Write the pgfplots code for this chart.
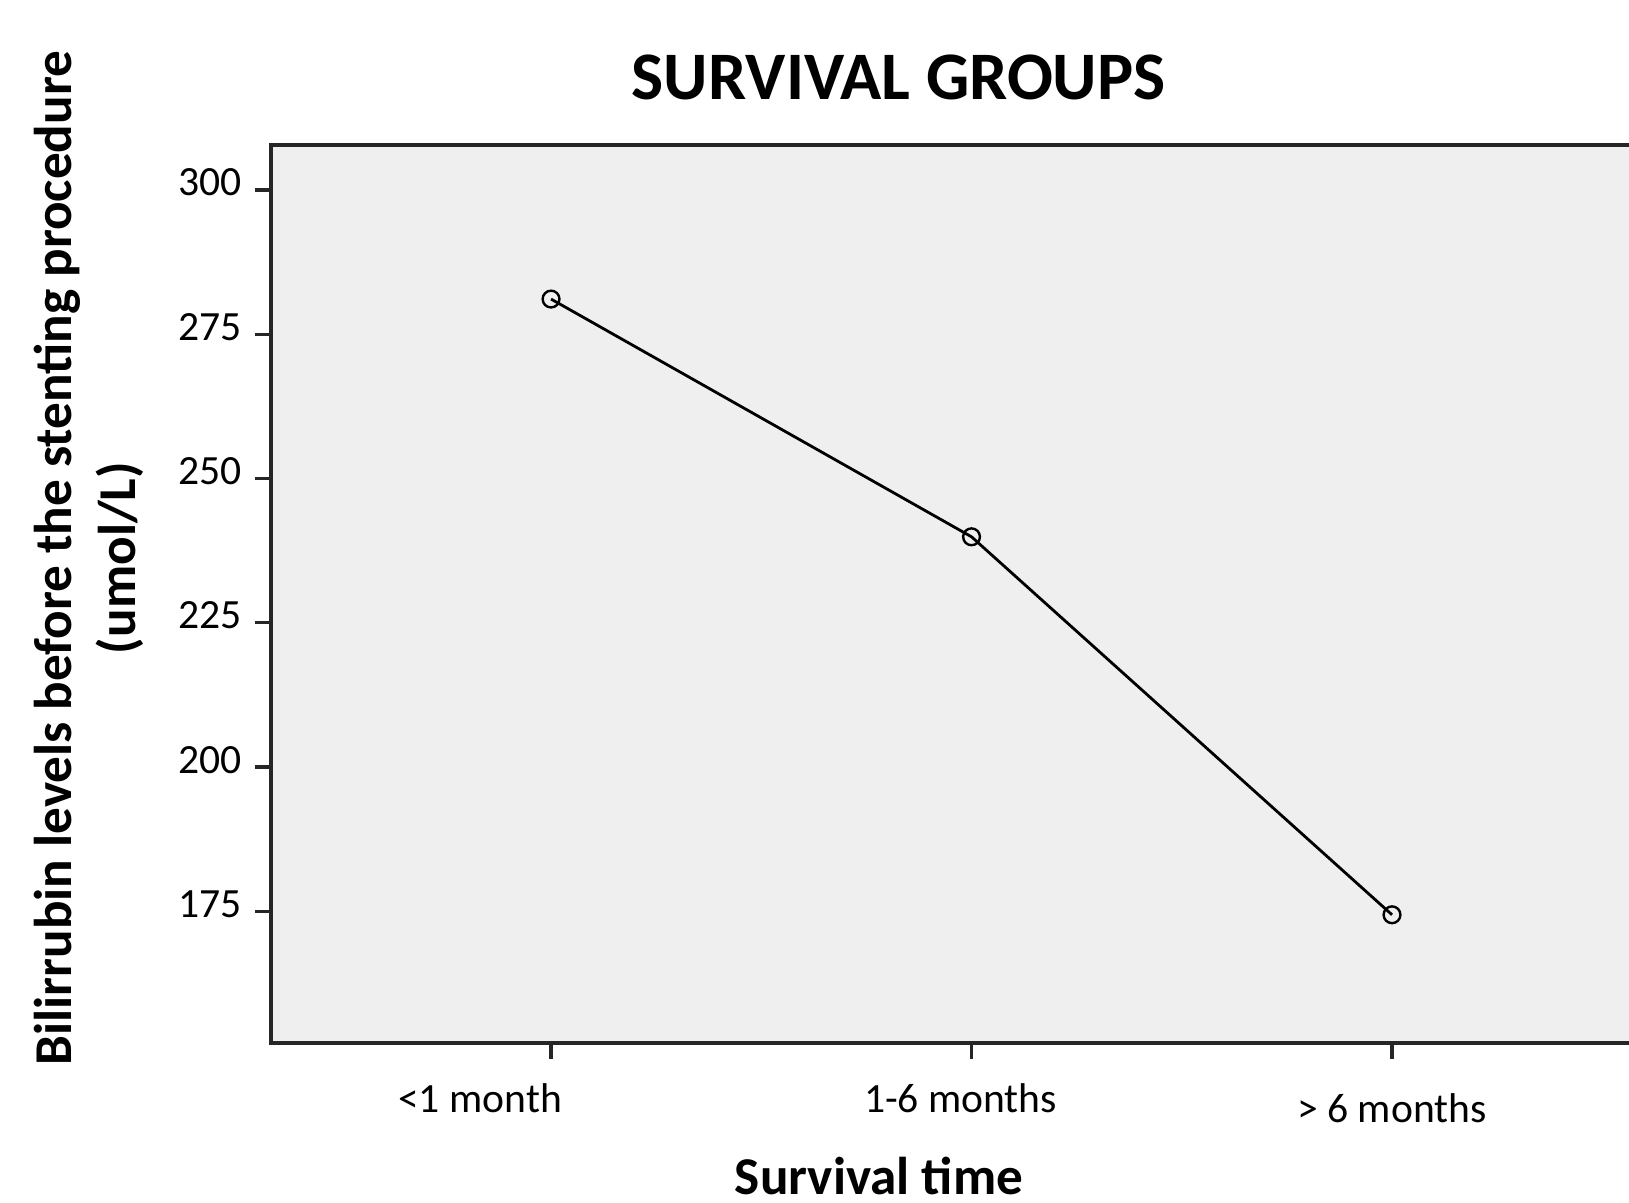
\documentclass[border=0pt]{standalone}
\usepackage{pgfplots}
\pgfplotsset{compat=1.18}
\usepackage{fontspec}
\setmainfont{Carlito}
\definecolor{bgc}{RGB}{239,239,239}
\begin{document}
\begin{tikzpicture}
\useasboundingbox (-67.7pt,-40pt) rectangle (339.6pt,260.75pt);
\begin{axis}[
  at={(0,0)}, anchor=south west,
  scale only axis,
  width=340.6pt, height=224.5pt,
  xmin=-0.6666, xmax=2.5731,
  ymin=152.2, ymax=307.8,
  axis background/.style={fill=bgc},
  axis line style={line width=0.9pt, black!85},
  tick align=outside,
  major tick length=4pt,
  tick style={line width=0.8pt, black!85},
  xtick={0,1,2},
  xticklabels={{<1 month\hspace*{35.5pt}},{1-6 months\hspace*{5.5pt}},{\raisebox{-2.5pt}{> 6 months}}},
  xtick pos=bottom,
  ytick={175,200,225,250,275,300},
  ytick pos=left,
  /pgf/number format/assume math mode=true,
  ticklabel style={font=\fontsize{10.4}{12}\selectfont},
  xticklabel style={anchor=base, yshift=-13.4pt},
  yticklabel style={anchor=base east, inner sep=0pt, xshift=-3pt, yshift=-1.5pt},
  title={SURVIVAL GROUPS},
  title style={at={(axis description cs:0.461,1.048)}, anchor=center, font=\bfseries\fontsize{17}{20}\selectfont},
  xlabel={Survival time},
  xlabel style={at={(axis description cs:0.4465,-0.148)}, anchor=center, inner sep=1pt, font=\bfseries\fontsize{13.3}{16}\selectfont},
  ylabel={Bilirrubin levels before the stenting procedure\\(umol/L)},
  ylabel style={at={(axis description cs:-0.1335,0.540)}, anchor=center, rotate=0, align=center, font=\bfseries\fontsize{13.3}{16.15}\selectfont},
]
\addplot[black, line width=0.7pt, mark=o, mark size=2.1pt, mark options={line width=0.6pt}] coordinates {
  (0,281.1) (1,239.9) (2,174.4)
};
\end{axis}
\end{tikzpicture}
\end{document}
